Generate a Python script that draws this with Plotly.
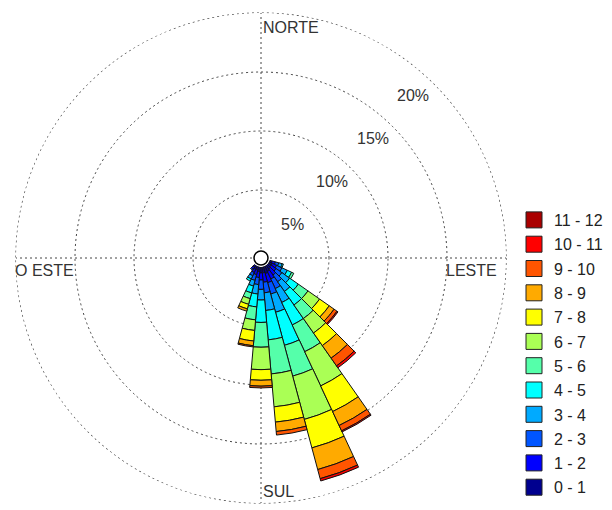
import math
import plotly.graph_objects as go

# ---- data ----
directions = [110, 120, 130, 140, 150, 160, 170, 180, 190, 200, 210, 220]
speed_labels = ["0 - 1", "1 - 2", "2 - 3", "3 - 4", "4 - 5", "5 - 6",
                "6 - 7", "7 - 8", "8 - 9", "9 - 10", "10 - 11", "11 - 12"]
b0_1 = [0.2, 0.3, 0.3, 0.4, 0.5, 0.6, 0.5, 0.5, 0.4, 0.3, 0.3, 0.2]
b1_2 = [0.3, 0.4, 0.5, 0.6, 0.7, 0.8, 0.8, 0.6, 0.5, 0.4, 0.3, 0.2]
b2_3 = [0.3, 0.5, 0.6, 0.7, 0.9, 1.0, 0.9, 0.8, 0.6, 0.5, 0.3, 0.1]
b3_4 = [0.3, 0.5, 0.8, 1.0, 1.3, 1.6, 1.5, 0.9, 0.8, 0.5, 0.3, 0.0]
b4_5 = [0.1, 0.4, 0.9, 1.4, 2.1, 2.9, 2.5, 1.9, 1.1, 0.6, 0.2, 0.0]
b5_6 = [0.0, 0.2, 1.0, 1.4, 2.5, 2.7, 2.9, 2.1, 1.1, 0.5, 0.0, 0.0]
b6_7 = [0.0, 0.0, 1.2, 1.5, 3.2, 3.8, 2.8, 1.9, 0.9, 0.5, 0.0, 0.0]
b7_8 = [0.0, 0.0, 1.0, 1.3, 2.4, 2.5, 1.3, 0.9, 0.9, 0.4, 0.0, 0.0]
b8_9 = [0.0, 0.0, 0.5, 1.3, 1.3, 1.9, 0.8, 0.5, 0.4, 0.2, 0.0, 0.0]
b9_10 = [0.0, 0.0, 0.3, 0.8, 0.5, 0.8, 0.3, 0.15, 0.1, 0.0, 0.0, 0.0]
b10_11 = [0.0, 0.0, 0.1, 0.2, 0.1, 0.2, 0.0, 0.0, 0.0, 0.0, 0.0, 0.0]
b11_12 = [0.0] * 12
bins = [b0_1, b1_2, b2_3, b3_4, b4_5, b5_6, b6_7, b7_8, b8_9, b9_10, b10_11, b11_12]

colors = ["#00008F", "#0000FF", "#0055FF", "#00AAFF", "#00FFFF", "#55FFAA",
          "#AAFF55", "#FFFF00", "#FFAA00", "#FF5500", "#FF0000", "#AA0000"]

ring_vals = [5, 10, 15, 20]
ring_text = ["5%", "10%", "15%", "20%"]
compass_text = ["NORTE", "LESTE", "SUL", "O ESTE"]

# ---- geometry (figure pixels; the page adds an 8px body margin) ----
W, H = 612, 510
cx, cy, R = 253, 250, 245
hole_px = 9
rmax = 20.0
FONT = "Liberation Sans, Arial, sans-serif"
TXT = "#333333"
GRID = "#444444"
DASH = "2px,3px"


def px(x):
    return x / W


def py(y):
    return 1 - y / H


fig = go.Figure()
for i, (vals, lab, col) in enumerate(zip(bins, speed_labels, colors)):
    fig.add_trace(go.Barpolar(
        r=[v if v > 0 else None for v in vals],
        theta=directions,
        width=10,
        name=lab,
        showlegend=False,
        marker=dict(color=col, line=dict(color="#111111", width=1)),
    ))
# legend entries (larger square swatches)
for i, (lab, col) in enumerate(zip(speed_labels, colors)):
    fig.add_trace(go.Scatterpolar(
        r=[None], theta=[None], mode="markers", name=lab,
        legendgroup=str(i), legendrank=100 - i,
        marker=dict(symbol="square", size=16, color=col,
                    line=dict(color="#222222", width=1)),
        hoverinfo="skip"))

annotations = []
for v, t in zip(ring_vals, ring_text):
    rp = hole_px + (R - hole_px) * (v - 1.9) / rmax
    a = math.radians(43)
    annotations.append(dict(
        x=px(cx + rp * math.sin(a)), y=py(cy - rp * math.cos(a)),
        xref="paper", yref="paper", text=t, showarrow=False,
        xanchor="center", yanchor="middle",
        font=dict(family=FONT, size=16, color=TXT)))

annotations += [
    dict(x=px(cx + 0), y=py(cy - R + 4), text=compass_text[0],
         xanchor="left", yanchor="top"),
    dict(x=px(cx + R - 7), y=py(cy + 2), text=compass_text[1],
         xanchor="right", yanchor="top"),
    dict(x=px(cx + 0), y=py(cy + R - 1), text=compass_text[2],
         xanchor="left", yanchor="bottom"),
    dict(x=px(cx - R - 3), y=py(cy + 2), text=compass_text[3],
         xanchor="left", yanchor="top"),
]
for a in annotations[len(ring_vals):]:
    a.update(xref="paper", yref="paper", showarrow=False,
             font=dict(family=FONT, size=16, color=TXT))

fig.update_layout(
    width=W, height=H,
    margin=dict(l=0, r=0, t=0, b=0, pad=0),
    paper_bgcolor="white",
    plot_bgcolor="white",
    showlegend=True,
    legend=dict(
        x=px(506), y=py(195), xanchor="left", yanchor="top",
        traceorder="grouped", tracegroupgap=0.5,
        font=dict(family=FONT, size=16, color="#222222"),
        itemwidth=30, bgcolor="rgba(0,0,0,0)",
    ),
    polar=dict(
        domain=dict(x=[px(cx - R), px(cx + R)],
                    y=[py(cy + R), py(cy - R)]),
        bgcolor="white",
        hole=hole_px / R,
        barmode="stack",
        radialaxis=dict(range=[0, rmax], tickvals=ring_vals, showticklabels=False,
                        ticks="", showline=False, gridcolor=GRID,
                        griddash=DASH, gridwidth=1.2),
        angularaxis=dict(rotation=90, direction="clockwise",
                         tickvals=[0, 90, 180, 270], showticklabels=False,
                         ticks="", showline=False, gridcolor=GRID,
                         griddash=DASH, gridwidth=1.2),
    ),
    annotations=annotations,
    shapes=[
        dict(type="circle", xref="paper", yref="paper", layer="below",
             x0=px(cx - R), x1=px(cx + R), y0=py(cy + R), y1=py(cy - R),
             line=dict(color=GRID, width=1.2, dash=DASH)),
        dict(type="circle", xref="paper", yref="paper",
             x0=px(cx - 7), x1=px(cx + 7), y0=py(cy + 7), y1=py(cy - 7),
             line=dict(color="black", width=1.5), fillcolor="white"),
    ],
)

fig.write_html("out.html")
